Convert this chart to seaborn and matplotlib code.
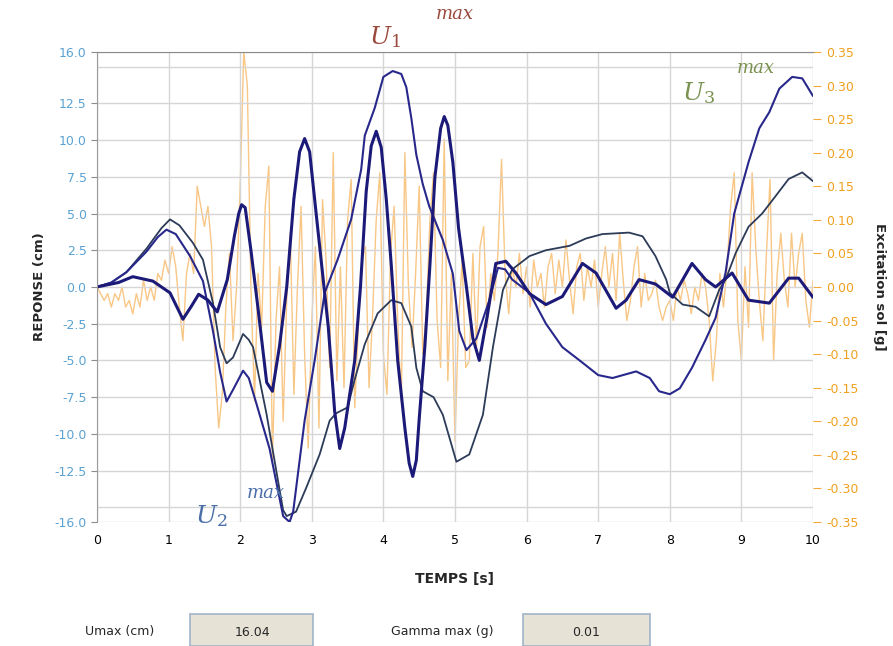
import matplotlib
matplotlib.use("Agg")
import matplotlib.pyplot as plt
import seaborn as sns
import pandas as pd
from matplotlib.patches import Rectangle

# réponse 1 (courbe épaisse, oscillante)
t1 = [0, 0.3, 0.5, 0.78, 1.02, 1.2, 1.32, 1.42, 1.55, 1.68, 1.82, 1.92, 1.98, 2.02, 2.07,
      2.15, 2.25, 2.37, 2.45, 2.55, 2.65, 2.75, 2.83, 2.9, 2.97, 3.05, 3.13, 3.23, 3.32,
      3.39, 3.46, 3.6, 3.68, 3.76, 3.83, 3.9, 3.97, 4.04, 4.11, 4.2, 4.3, 4.36, 4.41,
      4.46, 4.5, 4.58, 4.65, 4.72, 4.8, 4.85, 4.9, 4.97, 5.05, 5.16, 5.25, 5.34, 5.45,
      5.57, 5.71, 5.85, 6.04, 6.27, 6.5, 6.78, 6.97, 7.25, 7.39, 7.57, 7.8, 8.04, 8.31,
      8.5, 8.64, 8.87, 9.1, 9.39, 9.66, 9.8, 10.0]
u1 = [0, 0.3, 0.7, 0.4, -0.4, -2.2, -1.3, -0.5, -0.9, -1.7, 0.5, 3.5, 5.0, 5.6, 5.4,
      2.5, -1.5, -6.5, -7.1, -4.0, 0.0, 6.0, 9.2, 10.1, 9.2, 5.5, 1.85, -2.7, -8.5,
      -11.0, -9.6, -5.0, 0.0, 6.5, 9.6, 10.6, 9.5, 6.0, 1.5, -5.0, -9.6, -12.0, -12.9,
      -11.8, -9.0, -4.0, 1.5, 7.5, 10.8, 11.6, 11.0, 8.5, 4.0, 0.0, -3.5, -5.0, -2.0,
      1.6, 1.75, 0.95, -0.45, -1.2, -0.65, 1.6, 0.95, -1.45, -0.9, 0.5, 0.2, -0.7, 1.6,
      0.5, 0.0, 0.95, -0.9, -1.1, 0.6, 0.6, -0.7]

# réponse 2
t2 = [0, 0.2, 0.41, 0.69, 0.85, 0.97, 1.1, 1.3, 1.48, 1.62, 1.72, 1.81, 1.9, 2.04, 2.12,
      2.23, 2.41, 2.6, 2.69, 2.74, 2.9, 3.04, 3.18, 3.36, 3.55, 3.69, 3.74, 3.88, 4.0,
      4.13, 4.25, 4.32, 4.39, 4.46, 4.55, 4.64, 4.83, 4.97, 5.06, 5.16, 5.3, 5.48, 5.6,
      5.7, 5.8, 6.04, 6.27, 6.5, 6.74, 7.0, 7.2, 7.53, 7.72, 7.85, 8.0, 8.14, 8.31, 8.5,
      8.64, 8.78, 8.9, 9.1, 9.25, 9.39, 9.53, 9.71, 9.85, 10.0]
u2 = [0, 0.3, 1.0, 2.4, 3.4, 3.9, 3.6, 2.1, 0.4, -3.0, -5.8, -7.8, -7.0, -5.7, -6.2,
      -8.0, -11.0, -15.6, -16.0, -15.3, -9.1, -5.0, -0.4, 1.85, 4.6, 8.0, 10.3, 12.2,
      14.3, 14.7, 14.5, 13.6, 11.5, 9.0, 7.0, 5.5, 3.2, 0.9, -3.0, -4.3, -3.5, -0.9,
      1.3, 1.2, 0.5, -0.4, -2.5, -4.1, -5.0, -6.0, -6.2, -5.75, -6.2, -7.1, -7.3, -6.9,
      -5.5, -3.6, -2.1, 1.0, 5.0, 8.5, 10.8, 11.9, 13.5, 14.3, 14.2, 13.0]

# réponse 3
t3 = [0, 0.2, 0.41, 0.69, 0.9, 1.02, 1.15, 1.34, 1.48, 1.62, 1.72, 1.81, 1.9, 2.04, 2.12,
      2.18, 2.37, 2.5, 2.6, 2.65, 2.78, 2.92, 3.11, 3.25, 3.34, 3.5, 3.6, 3.74, 3.92,
      4.11, 4.25, 4.39, 4.46, 4.55, 4.7, 4.83, 5.02, 5.2, 5.39, 5.53, 5.67, 5.8, 6.04,
      6.27, 6.6, 6.83, 7.06, 7.43, 7.62, 7.8, 7.95, 8.0, 8.18, 8.36, 8.55, 8.69, 8.78,
      8.92, 9.1, 9.29, 9.48, 9.66, 9.85, 10.0]
u3 = [0, 0.3, 1.0, 2.6, 4.0, 4.6, 4.2, 3.0, 1.85, -1.1, -4.1, -5.2, -4.8, -3.2, -3.6,
      -4.1, -8.7, -12.4, -15.2, -15.6, -15.3, -13.7, -11.4, -9.1, -8.6, -8.2, -6.3, -3.9,
      -1.8, -0.9, -1.1, -2.7, -5.5, -7.1, -7.5, -8.7, -11.9, -11.4, -8.7, -4.1, -0.2,
      1.2, 2.1, 2.5, 2.8, 3.3, 3.6, 3.7, 3.45, 2.1, 0.5, -0.4, -1.2, -1.35, -2.0, -0.2,
      0.5, 2.3, 4.1, 5.0, 6.2, 7.35, 7.8, 7.2]

# excitation sol [g], pas de 0.05 s
te = [0.0, 0.05, 0.1, 0.15, 0.2, 0.25, 0.3, 0.35, 0.4, 0.45, 0.5, 0.55, 0.6, 0.65, 0.7,
      0.75, 0.8, 0.85, 0.9, 0.95, 1.0, 1.05, 1.1, 1.15, 1.2, 1.25, 1.3, 1.35, 1.4, 1.45,
      1.5, 1.55, 1.6, 1.65, 1.7, 1.75, 1.8, 1.85, 1.9, 1.95, 2.0, 2.05, 2.1, 2.15, 2.2,
      2.25, 2.3, 2.35, 2.4, 2.45, 2.5, 2.55, 2.6, 2.65, 2.7, 2.75, 2.8, 2.85, 2.9, 2.95,
      3.0, 3.05, 3.1, 3.15, 3.2, 3.25, 3.3, 3.35, 3.4, 3.45, 3.5, 3.55, 3.6, 3.65, 3.7,
      3.75, 3.8, 3.85, 3.9, 3.95, 4.0, 4.05, 4.1, 4.15, 4.2, 4.25, 4.3, 4.35, 4.4, 4.45,
      4.5, 4.55, 4.6, 4.65, 4.7, 4.75, 4.8, 4.85, 4.9, 4.95, 5.0, 5.05, 5.1, 5.15, 5.2,
      5.25, 5.3, 5.35, 5.4, 5.45, 5.5, 5.55, 5.6, 5.65, 5.7, 5.75, 5.8, 5.85, 5.9, 5.95,
      6.0, 6.05, 6.1, 6.15, 6.2, 6.25, 6.3, 6.35, 6.4, 6.45, 6.5, 6.55, 6.6, 6.65, 6.7,
      6.75, 6.8, 6.85, 6.9, 6.95, 7.0, 7.05, 7.1, 7.15, 7.2, 7.25, 7.3, 7.35, 7.4, 7.45,
      7.5, 7.55, 7.6, 7.65, 7.7, 7.75, 7.8, 7.85, 7.9, 7.95, 8.0, 8.05, 8.1, 8.15, 8.2,
      8.25, 8.3, 8.35, 8.4, 8.45, 8.5, 8.55, 8.6, 8.65, 8.7, 8.75, 8.8, 8.85, 8.9, 8.95,
      9.0, 9.05, 9.1, 9.15, 9.2, 9.25, 9.3, 9.35, 9.4, 9.45, 9.5, 9.55, 9.6, 9.65, 9.7,
      9.75, 9.8, 9.85, 9.9, 9.95, 10.0]
ge = [0.0, -0.01, -0.02, -0.01, -0.03, -0.01, -0.02, 0.0, -0.03, -0.02, -0.04, -0.01,
      -0.03, 0.01, -0.02, 0.0, -0.02, 0.02, 0.01, 0.04, 0.02, 0.06, 0.03, -0.03, -0.08,
      0.02, 0.05, 0.02, 0.15, 0.12, 0.09, 0.12, 0.06, -0.12, -0.21, -0.16, -0.03, 0.05,
      -0.08, 0.0, 0.15, 0.35, 0.3, 0.0, -0.17, 0.02, -0.06, 0.12, 0.18, -0.26, -0.05,
      0.03, -0.2, -0.02, 0.08, -0.16, 0.0, 0.12, -0.1, -0.24, -0.05, 0.06, -0.21, 0.13,
      0.04, -0.12, 0.2, -0.14, 0.03, -0.15, 0.1, 0.16, -0.18, -0.06, 0.04, 0.06, -0.15,
      -0.04, 0.1, 0.17, -0.1, -0.16, 0.05, 0.12, -0.05, -0.17, 0.2, 0.0, -0.09, 0.02,
      0.15, -0.1, -0.04, 0.1, 0.17, -0.05, -0.12, 0.22, -0.14, 0.02, -0.23, -0.05, 0.04,
      -0.12, -0.11, 0.05, -0.09, 0.06, 0.09, -0.06, 0.02, -0.02, 0.05, 0.19, 0.02, -0.04,
      0.03, 0.0, 0.05, -0.01, 0.03, -0.03, 0.04, 0.0, 0.02, -0.03, 0.03, 0.05, -0.01,
      0.04, 0.0, 0.07, 0.01, -0.04, 0.03, 0.05, -0.02, 0.03, 0.0, 0.04, -0.03, 0.02,
      0.06, 0.0, 0.05, -0.02, 0.08, 0.01, -0.05, -0.02, 0.03, 0.06, -0.03, 0.02, -0.02,
      -0.01, 0.01, -0.03, -0.05, -0.03, -0.02, -0.05, 0.0, -0.02, 0.01, -0.01, -0.04,
      0.0, -0.02, 0.02, 0.0, -0.05, -0.14, -0.08, 0.02, -0.03, 0.03, 0.12, 0.17, -0.05,
      -0.11, 0.03, -0.06, 0.17, 0.06, -0.02, -0.08, 0.05, 0.16, -0.11, 0.02, 0.08, 0.01,
      -0.03, 0.08, 0.0, 0.05, 0.08, -0.02, -0.06, 0.01]

yticks_left = [-16, -12.5, -10, -7.5, -5, -2.5, 0, 2.5, 5, 7.5, 10, 12.5, 16]
yticks_right = [-0.35, -0.30, -0.25, -0.20, -0.15, -0.10, -0.05, 0.0,
                0.05, 0.10, 0.15, 0.20, 0.25, 0.30, 0.35]

sns.set_style("white")
plt.rcParams['font.family'] = ['DejaVu Sans']
plt.rcParams['mathtext.fontset'] = 'dejavuserif'

fig = plt.figure(figsize=(8.93, 6.46), dpi=100)
ax = fig.add_axes([0.1086, 0.192, 0.8018, 0.7276])
ax2 = ax.twinx()

# excitation derrière les réponses
ax.set_zorder(ax2.get_zorder() + 1)
ax.patch.set_visible(False)
sns.lineplot(x=te, y=ge, ax=ax2, color="#f6b45c", lw=1.0, alpha=0.75)

sns.lineplot(x=t3, y=u3, ax=ax, color="#2c3b58", lw=1.3)
sns.lineplot(x=t2, y=u2, ax=ax, color="#28288c", lw=1.5)
sns.lineplot(x=t1, y=u1, ax=ax, color="#1c1a78", lw=2.2)

ax.set_xlim(0, 10)
ax.set_ylim(-16, 16)
ax2.set_ylim(-0.35, 0.35)

ax.set_xticks(range(0, 11))
ax.set_yticks(yticks_left)
ax.set_yticklabels([f"{v:.1f}" for v in yticks_left])
ax.set_yticks([-15, 15], minor=True)
ax.grid(True, which="both", color="#d6d6d6", lw=1.0)
ax.tick_params(axis="y", which="minor", length=0)
ax.tick_params(axis="y", colors="#8c8c8c", labelcolor="#5aa2d2", labelsize=9, length=4, width=0.8)
ax.tick_params(axis="x", colors="black", labelsize=9, length=5, width=1, direction="out")

ax2.set_yticks(yticks_right)
ax2.set_yticklabels([("0.00" if abs(v) < 1e-9 else f"{v:.2f}") for v in yticks_right])
ax2.tick_params(axis="y", colors="#f2a83a", labelcolor="#f0a020", labelsize=9, length=6, width=0.8)
ax2.grid(False)

for a in (ax, ax2):
    a.spines["bottom"].set_visible(False)
    a.spines["right"].set_visible(False)
    a.spines["top"].set_color("#8a8a8a")
    a.spines["left"].set_color("#9a9a9a")
ax2.spines["left"].set_visible(False)
ax2.spines["top"].set_visible(False)

ax.set_xlabel("TEMPS [s]", fontsize=10, fontweight="bold", labelpad=18)
ax.set_ylabel("REPONSE (cm)", fontsize=9.5, fontweight="bold", labelpad=6)
ax2.set_ylabel("Excitation sol [g]", fontsize=9.5, fontweight="bold", rotation=270, labelpad=20)

# annotations U max
ax.text(4.02, 17.0, r"$U_1$", color="#9a4a3c", fontsize=18, ha="center", va="center", clip_on=False)
ax.text(5.0, 18.6, "max", color="#9a4a3c", fontsize=13, family="DejaVu Serif", style="italic", ha="center", va="center", clip_on=False)
ax.text(8.4, 13.2, r"$U_3$", color="#7a9250", fontsize=18, ha="center", va="center")
ax.text(9.2, 14.9, "max", color="#7a9250", fontsize=13, family="DejaVu Serif", style="italic", ha="center", va="center")
ax.text(1.6, -15.6, r"$U_2$", color="#4a6ea8", fontsize=18, ha="center", va="center", clip_on=False)
ax.text(2.35, -14.0, "max", color="#4a6ea8", fontsize=13, family="DejaVu Serif", style="italic", ha="center", va="center")

# zone des résultats en bas
W, H = 893, 646
fig.text(120 / W, 1 - 632 / H, "Umax (cm)", fontsize=9, ha="center", va="center")
fig.patches.append(Rectangle((190 / W, 1 - 646 / H), 123 / W, 32 / H, transform=fig.transFigure,
                             facecolor="#e6e2d6", edgecolor="#9fb4c8", lw=1.2))
fig.text(252 / W, 1 - 632 / H, "16.04", fontsize=9, ha="center", va="center")
fig.text(442 / W, 1 - 632 / H, "Gamma max (g)", fontsize=9, ha="center", va="center")
fig.patches.append(Rectangle((523 / W, 1 - 646 / H), 127 / W, 32 / H, transform=fig.transFigure,
                             facecolor="#e6e2d6", edgecolor="#9fb4c8", lw=1.2))
fig.text(586 / W, 1 - 632 / H, "0.01", fontsize=9, ha="center", va="center")

fig.savefig("out.png", dpi=100)
